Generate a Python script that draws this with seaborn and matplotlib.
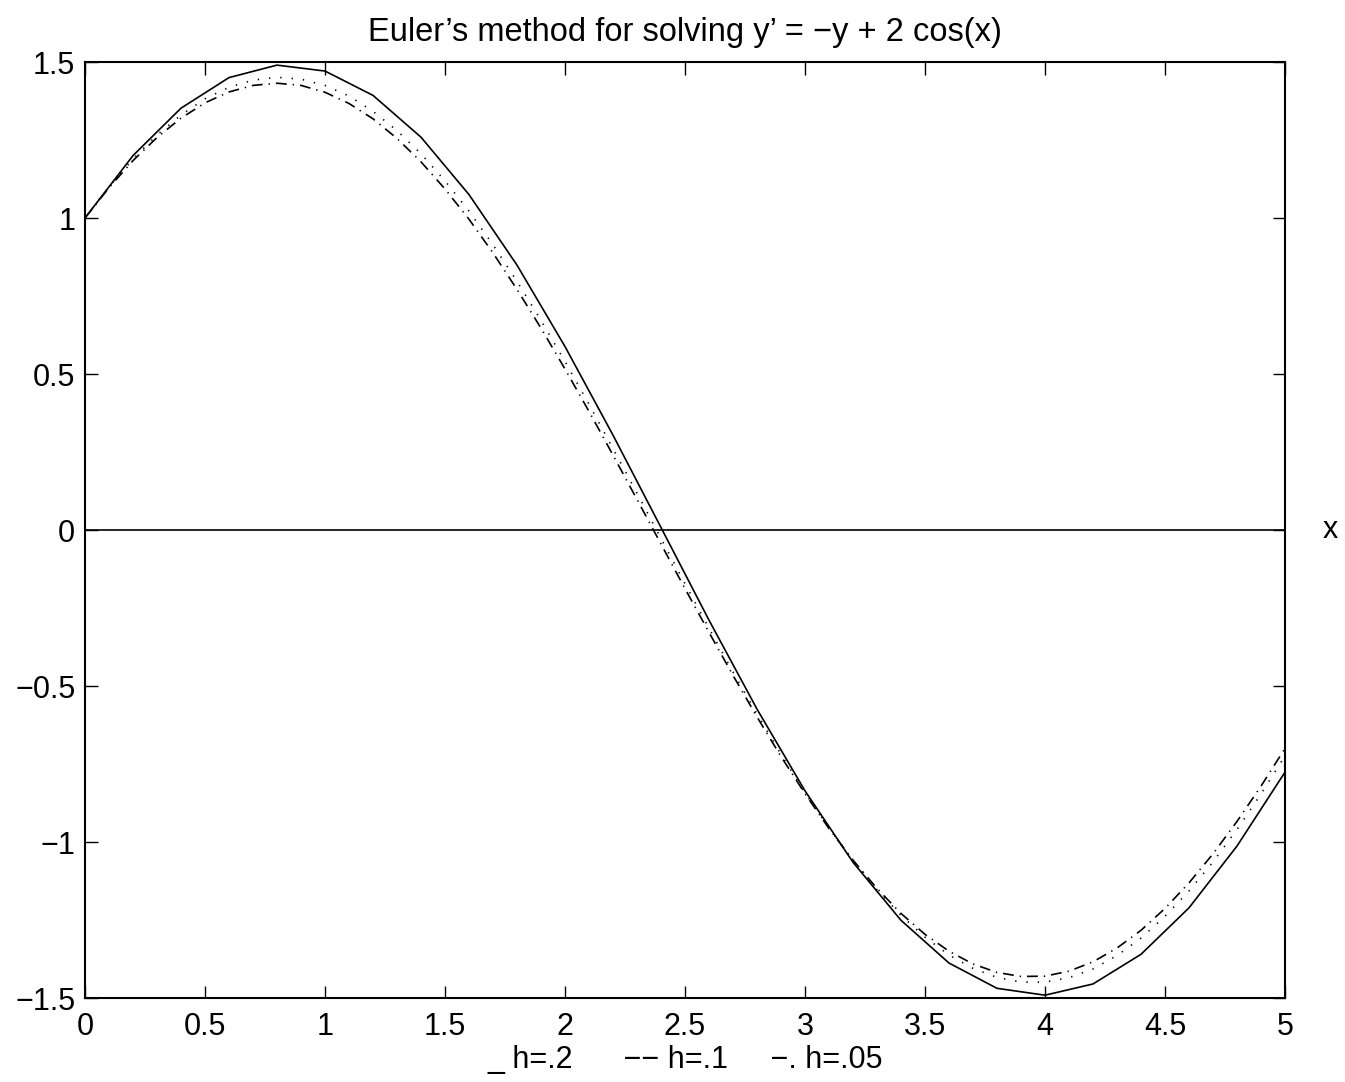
import numpy as np
import pandas as pd
import matplotlib
matplotlib.use("Agg")
import matplotlib.pyplot as plt
import seaborn as sns

# Euler solution, h = 0.2
x_h2 = [0.0, 0.2, 0.4, 0.6, 0.8, 1.0, 1.2, 1.4, 1.6, 1.8, 2.0, 2.2, 2.4,
        2.6, 2.8, 3.0, 3.2, 3.4, 3.6, 3.8, 4.0, 4.2, 4.4, 4.6, 4.8, 5.0]
y_h2 = [1.000, 1.200, 1.352, 1.450, 1.490, 1.471, 1.393, 1.259, 1.075,
        0.849, 0.588, 0.304, 0.008, -0.289, -0.574, -0.836, -1.065,
        -1.251, -1.388, -1.469, -1.491, -1.455, -1.360, -1.211, -1.013, -0.776]

# Euler solution, h = 0.1
x_h1 = [0.0, 0.1, 0.2, 0.3, 0.4, 0.5, 0.6, 0.7, 0.8, 0.9, 1.0, 1.1, 1.2,
        1.3, 1.4, 1.5, 1.6, 1.7, 1.8, 1.9, 2.0, 2.1, 2.2, 2.3, 2.4, 2.5,
        2.6, 2.7, 2.8, 2.9, 3.0, 3.1, 3.2, 3.3, 3.4, 3.5, 3.6, 3.7, 3.8,
        3.9, 4.0, 4.1, 4.2, 4.3, 4.4, 4.5, 4.6, 4.7, 4.8, 4.9, 5.0]
y_h1 = [1.000, 1.100, 1.189, 1.266, 1.330, 1.382, 1.419, 1.442, 1.451,
        1.445, 1.425, 1.391, 1.342, 1.280, 1.206, 1.119, 1.022, 0.914,
        0.797, 0.672, 0.540, 0.403, 0.261, 0.118, -0.027, -0.172, -0.315,
        -0.455, -0.590, -0.719, -0.842, -0.955, -1.060, -1.153, -1.235,
        -1.305, -1.362, -1.405, -1.434, -1.449, -1.449, -1.435, -1.407,
        -1.364, -1.308, -1.238, -1.157, -1.064, -0.960, -0.846, -0.724]

# Euler solution, h = 0.05 (read every 0.1)
x_h05 = x_h1
y_h05 = [1.000, 1.097, 1.184, 1.258, 1.320, 1.369, 1.404, 1.425, 1.432,
         1.425, 1.403, 1.367, 1.318, 1.255, 1.180, 1.093, 0.996, 0.888,
         0.771, 0.647, 0.516, 0.380, 0.240, 0.098, -0.045, -0.188, -0.328,
         -0.466, -0.599, -0.726, -0.845, -0.957, -1.058, -1.149, -1.229,
         -1.296, -1.350, -1.391, -1.418, -1.431, -1.430, -1.414, -1.384,
         -1.340, -1.283, -1.213, -1.131, -1.038, -0.934, -0.821, -0.700]

x_ticks = [0, 0.5, 1, 1.5, 2, 2.5, 3, 3.5, 4, 4.5, 5]
x_ticklabels = ["0", "0.5", "1", "1.5", "2", "2.5", "3", "3.5", "4", "4.5", "5"]
y_ticks = [-1.5, -1, -0.5, 0, 0.5, 1, 1.5]
y_ticklabels = ["\u22121.5", "\u22121", "\u22120.5", "0", "0.5", "1", "1.5"]

title = "Euler\u2019s method for solving y\u2019 = \u2212y + 2 cos(x)"
xlabel = "_ h=.2      \u2212\u2212 h=.1     \u2212. h=.05"

sns.set_theme(style="white")
plt.rcParams["font.family"] = ["Liberation Sans", "DejaVu Sans"]
plt.rcParams["axes.unicode_minus"] = True

FS = 22

fig = plt.figure(figsize=(13.45, 10.82), dpi=100)
ax = fig.add_axes([85 / 1345, 1 - 998 / 1082, 1200 / 1345, 936 / 1082])

df2 = pd.DataFrame({"x": x_h2, "y": y_h2})
df1 = pd.DataFrame({"x": x_h1, "y": y_h1})
df05 = pd.DataFrame({"x": x_h05, "y": y_h05})

sns.lineplot(data=df2, x="x", y="y", ax=ax, color="black", lw=1.2,
             linestyle="-", sort=False)
sns.lineplot(data=df1, x="x", y="y", ax=ax, color="black", lw=1.2,
             sort=False).lines[-1].set_dashes((0.8, 6.0))
sns.lineplot(data=df05, x="x", y="y", ax=ax, color="black", lw=1.2,
             sort=False).lines[-1].set_dashes((6.5, 3.6, 0.8, 3.6))

ax.axhline(0, color="black", lw=1.2)

ax.set_xlim(0, 5)
ax.set_ylim(-1.5, 1.5)
ax.set_xticks(x_ticks)
ax.set_xticklabels(x_ticklabels)
ax.set_yticks(y_ticks)
ax.set_yticklabels(y_ticklabels)
ax.tick_params(direction="in", length=9, width=1.0, colors="black",
               labelsize=FS, top=True, right=True, bottom=True, left=True)
ax.tick_params(axis="x", pad=10)
ax.tick_params(axis="y", pad=7)
for sp in ax.spines.values():
    sp.set_visible(True)
    sp.set_color("black")
    sp.set_linewidth(1.5)
ax.grid(False)

ax.set_title(title, fontsize=23.5, pad=15, color="black")
ax.set_xlabel(xlabel, fontsize=FS, labelpad=2, color="black")
ax.set_ylabel("")
ax.text(5.19, 0, "x", fontsize=FS, ha="center", va="center", color="black")

fig.savefig("out.png", dpi=100, facecolor="white")
